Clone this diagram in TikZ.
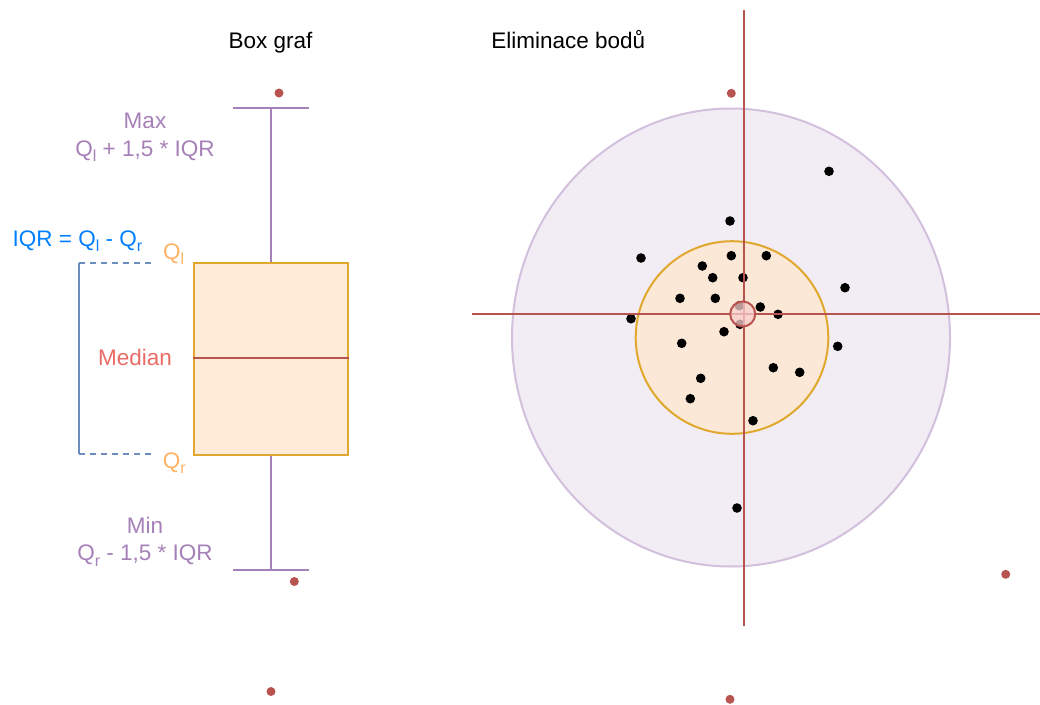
\documentclass[tikz,border=0pt]{standalone}
\usepackage{fontspec}
\setmainfont{Liberation Sans}
\definecolor{whisker}{HTML}{A680B8}
\definecolor{boxfill}{HTML}{FFEBD8}
\definecolor{boxline}{HTML}{E0A82E}
\definecolor{quart}{HTML}{FFB366}
\definecolor{medtext}{HTML}{EA6B66}
\definecolor{redline}{HTML}{B85450}
\definecolor{iqrtext}{HTML}{007FFF}
\definecolor{bracket}{HTML}{6C8EBF}
\definecolor{outerfill}{HTML}{F2ECF5}
\definecolor{outerline}{HTML}{D2C0DD}
\definecolor{innerfill}{HTML}{FCE8D6}
\definecolor{pinkfill}{HTML}{F8CECC}
% lowered, smaller index after a quartile letter
\newcommand\lowsub[1]{\raisebox{-5.5pt}{\fontsize{16}{16}\selectfont #1}}
\begin{document}
\begin{tikzpicture}[x=1pt,y=-1pt,
  lbl/.style={inner sep=0pt,font=\fontsize{22.5}{27}\selectfont},
  wline/.style={draw=whisker,line width=2pt},
  outlier/.style={fill=redline},
  pt/.style={fill=black}]
\useasboundingbox (0,0) rectangle (1040,704);

% ---------- box plot ----------
\node[lbl,anchor=base] (t1) at (270.5,48.3) {Box graf};
\node[draw=boxline,fill=boxfill,line width=2pt,minimum width=154pt,minimum height=192pt,inner sep=0pt] (box) at (271,358.5) {};
\coordinate (capT) at (271,108);
\coordinate (capB) at (271,570);
\draw[wline] (box.north) -- (capT);
\draw[wline] (box.south) -- (capB);
\draw[wline] ([xshift=-38pt]capT) -- ([xshift=38pt]capT);
\draw[wline] ([xshift=-38pt]capB) -- ([xshift=38pt]capB);
\draw[redline,line width=2pt] (box.west |- 0,358) -- (box.east |- 0,358);

\fill[outlier] (279,93) circle[radius=4.5pt];
\fill[outlier] (294.3,581.5) circle[radius=4.5pt];
\fill[outlier] (271,691.5) circle[radius=4.5pt];

% interquartile bracket
\coordinate (brT) at (79,262.7);
\coordinate (brB) at (79,454.3);
\draw[bracket,line width=2pt] (brT) -- (brB);
\draw[bracket,line width=2pt,dash pattern=on 6pt off 5pt] (brT) -- (154,262.7);
\draw[bracket,line width=2pt,dash pattern=on 6pt off 5pt] (brB) -- (154,454.3);

\node[lbl,anchor=base,text=whisker] (max) at (145,128.3) {Max};
\node[lbl,anchor=base,text=whisker] (maxf) at (145,156) {Q\lowsub{l} + 1,5 * IQR};
\node[lbl,anchor=base west,text=iqrtext] (iqr) at (12.5,246) {IQR = Q\lowsub{l} - Q\lowsub{r}};
\node[lbl,anchor=base west,text=quart] (ql) at (163,259) {Q\lowsub{l}};
\node[lbl,anchor=base,text=medtext] (med) at (135,365) {Median};
\node[lbl,anchor=base west,text=quart] (qr) at (162.7,468) {Q\lowsub{r}};
\node[lbl,anchor=base,text=whisker] (min) at (145,533.3) {Min};
\node[lbl,anchor=base,text=whisker] (minf) at (145,560.7) {Q\lowsub{r} - 1,5 * IQR};

% ---------- point elimination ----------
\node[lbl,anchor=base] (t2) at (568.3,48.3) {Eliminace bodů};
\draw[draw=outerline,fill=outerfill,line width=2pt] (731,337.5) ellipse[x radius=219pt,y radius=229pt];
\draw[draw=boxline,fill=innerfill,line width=2pt] (732,337.5) circle[radius=96.3pt];

\foreach \px/\py in {641/258,731.3/255.7,766.3/255.7,702.3/266,712.7/277.7,743/277.7,
  680/298.3,715.3/298.3,760.3/307,778/314.3,739.3/305.7,740/324.3,845/287.7,631/318.7,
  724/331.7,681.7/343.3,837.7/346.3,773.3/367.7,799.7/372.3,700.7/378.3,690.3/398.7,
  753/420.7,730/221,829/171.3,737/508}
  \fill[pt] (\px,\py) circle[radius=4.8pt];

\coordinate (vT) at (743.7,10);
\coordinate (vB) at (743.7,626);
\coordinate (hL) at (472,314);
\coordinate (hR) at (1040,314);
\draw[redline,line width=2pt] (vT) -- (vB);
\draw[redline,line width=2pt] (hL) -- (hR);
\draw[draw=redline,fill=pinkfill,fill opacity=0.75,line width=2pt] (742.7,314) circle[radius=12.5pt];

\fill[outlier] (731.3,93.3) circle[radius=4.5pt];
\fill[outlier] (1005.7,574.3) circle[radius=4.5pt];
\fill[outlier] (730,699.3) circle[radius=4.5pt];
\end{tikzpicture}
\end{document}
